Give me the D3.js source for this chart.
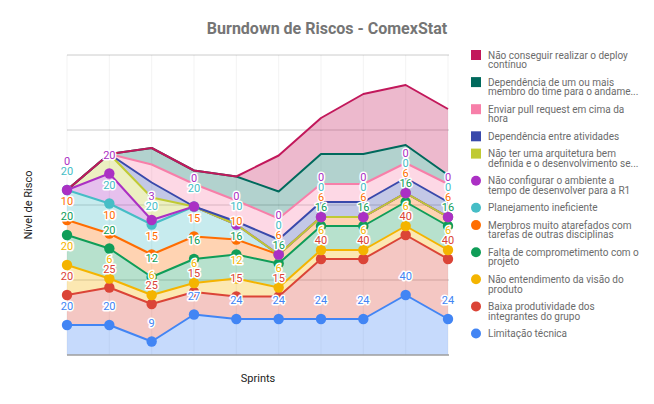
<!DOCTYPE html>
<html><head><meta charset="utf-8">
<script src="https://cdn.jsdelivr.net/npm/d3@7/dist/d3.min.js"></script>
<style>body{margin:0;background:#fff}svg{display:block;font-family:Roboto,Arial,sans-serif}</style>
</head><body>
<svg id="chart" width="654" height="404"></svg>
<script>
// ---- data ----
const sprints = ["Sprint 1","Sprint 2","Sprint 3","Sprint 4","Sprint 5","Sprint 6","Sprint 7","Sprint 8","Sprint 9","Sprint 10"];
const limitacaoTecnica          = [20,20, 9,27,24,24,24,24,40,24];
const baixaProdutividade        = [20,25,25,15,15,15,40,40,40,40];
const naoEntendimentoVisao      = [20, 6, 6, 6,12, 6, 6, 6, 6, 6];
const faltaComprometimento      = [20,20,12,16,16,16,16,16,16,16];
const membrosAtarefados         = [10,10,15,15,10, 6, 6, 6, 6, 6];
const planejamentoIneficiente   = [20,20,20,20,10, 0, 0, 0, 0, 0];
const naoConfigurarAmbiente     = [ 0,20, 3, 0, 0, 0, 0, 0, 0, 0];
const naoTerArquitetura         = [ 0,13,15, 0, 0, 0, 0, 0, 0, 0];
const dependenciaAtividades     = [ 0, 0,10, 0, 2,10,10,10,10,10];
const enviarPullRequest         = [ 0, 0,12,15,14,14,12,12,10,12];
const dependenciaMembro         = [ 0, 0,11, 9,16,18,20,20,12, 6];
const naoConseguirDeploy        = [ 0, 0, 0, 0, 0,24,24,40,40,44];
const yTicks = [0,50,100,150,200];

const chartTitle = "Burndown de Riscos - ComexStat";
const xTitle = "Sprints";
const yTitle = "Nível de Risco";

// series, bottom of stack first
const seriesValues = [limitacaoTecnica, baixaProdutividade, naoEntendimentoVisao, faltaComprometimento,
  membrosAtarefados, planejamentoIneficiente, naoConfigurarAmbiente, naoTerArquitetura,
  dependenciaAtividades, enviarPullRequest, dependenciaMembro, naoConseguirDeploy];
const seriesLegend = [
  ["Limitação técnica"],
  ["Baixa produtividade dos","integrantes do grupo"],
  ["Não entendimento da visão do","produto"],
  ["Falta de comprometimento com o","projeto"],
  ["Membros muito atarefados com","tarefas de outras disciplinas"],
  ["Planejamento ineficiente"],
  ["Não configurar o ambiente a","tempo de desenvolver para a R1"],
  ["Não ter uma arquitetura bem","definida e o desenvolvimento se..."],
  ["Dependência entre atividades"],
  ["Enviar pull request em cima da","hora"],
  ["Dependência de um ou mais","membro do time para o andame..."],
  ["Não conseguir realizar o deploy","contínuo"]
];
const seriesColors = ["#4285f4","#db4437","#f4b400","#0f9d58","#ff6d01","#46bdc6","#ab30c4",
  "#c0ca33","#3949ab","#f77fa9","#00695c","#c2185b"];
const seriesPoints = [true,true,true,true,true,true,true,false,false,false,false,false];

// ---- chart ----
const svg = d3.select("#chart");
const keys = seriesValues.map((_, i) => "s" + i);
const rows = sprints.map((s, j) => { const r = {sprint: s}; keys.forEach((k, i) => r[k] = seriesValues[i][j]); return r; });
const stacked = d3.stack().keys(keys)(rows);

const x = d3.scalePoint().domain(sprints).range([67, 448]);
const y = d3.scaleLinear().domain([0, 200]).range([355, 55]);

// gridlines
svg.append("g").selectAll("line").data(yTicks.slice(1)).join("line")
  .attr("x1", 67).attr("x2", 449).attr("y1", d => y(d)).attr("y2", d => y(d))
  .attr("stroke", "#cccccc").attr("stroke-width", 1);
svg.append("g").selectAll("line").data(sprints).join("line")
  .attr("x1", d => x(d)).attr("x2", d => x(d)).attr("y1", 55).attr("y2", 355)
  .attr("stroke", "#000").attr("stroke-opacity", 0.05);

// areas
const area = d3.area().x(d => x(d.data.sprint)).y0(d => y(d[0])).y1(d => y(d[1]));
svg.append("g").selectAll("path").data(stacked).join("path")
  .attr("d", area).attr("fill", (d, i) => seriesColors[i]).attr("fill-opacity", 0.3);

// baseline
svg.append("line").attr("x1", 67).attr("x2", 449).attr("y1", y(0)).attr("y2", y(0))
  .attr("stroke", "#9e9e9e").attr("stroke-width", 1.5);

// lines
const line = d3.line().x(d => x(d.data.sprint)).y(d => y(d[1]));
svg.append("g").selectAll("path").data(stacked).join("path")
  .attr("d", line).attr("fill", "none").attr("stroke", (d, i) => seriesColors[i]).attr("stroke-width", 2)
  .attr("stroke-linejoin", "round");

// points
stacked.forEach((s, i) => {
  if (!seriesPoints[i]) return;
  svg.append("g").selectAll("circle").data(s).join("circle")
    .attr("cx", d => x(d.data.sprint)).attr("cy", d => y(d[1])).attr("r", 5.2)
    .attr("fill", seriesColors[i]);
});

// annotations with simple collision avoidance
const ann = svg.append("g").attr("font-size", 11).attr("text-anchor", "middle");
sprints.forEach((sp, j) => {
  let prev = Infinity;
  stacked.forEach((s, i) => {
    if (!seriesPoints[i]) return;
    let ly = y(s[j][1]) - 18.5;
    if (ly > prev - 10) ly = prev - 10;
    prev = ly;
    ann.append("text").attr("x", x(sp)).attr("y", ly).attr("dy", "0.36em")
      .attr("fill", seriesColors[i]).attr("stroke", "#fff").attr("stroke-width", 3)
      .attr("paint-order", "stroke").attr("stroke-linejoin", "round")
      .text(seriesValues[i][j]);
  });
});

// title
svg.append("text").attr("x", 327).attr("y", 28).attr("dy", "0.36em").attr("text-anchor", "middle")
  .attr("font-size", 16).attr("font-weight", "bold").attr("fill", "#757575").text(chartTitle);
svg.append("text").attr("x", 258).attr("y", 378).attr("dy", "0.36em").attr("text-anchor", "middle")
  .attr("font-size", 11).attr("fill", "#222").text(xTitle);
svg.append("text").attr("transform", "translate(28,205) rotate(-90)").attr("dy", "0.36em")
  .attr("text-anchor", "middle").attr("font-size", 11).attr("fill", "#222").text(yTitle);

// legend (top of stack first)
const lg = svg.append("g");
let ly = 55;
for (let i = seriesValues.length - 1; i >= 0; i--) {
  const g = lg.append("g");
  if (seriesPoints[i]) g.append("circle").attr("cx", 476).attr("cy", ly).attr("r", 5).attr("fill", seriesColors[i]);
  else g.append("rect").attr("x", 471).attr("y", ly - 5).attr("width", 10).attr("height", 10).attr("fill", seriesColors[i]);
  seriesLegend[i].forEach((t, k) => {
    g.append("text").attr("x", 488).attr("y", ly + k * 9.6).attr("dy", "0.36em")
      .attr("font-size", 10).attr("fill", "#6b6b6b").text(t);
  });
  ly += (seriesLegend[i].length - 1) * 9.8 + 17.3;
}
</script>
</body></html>
